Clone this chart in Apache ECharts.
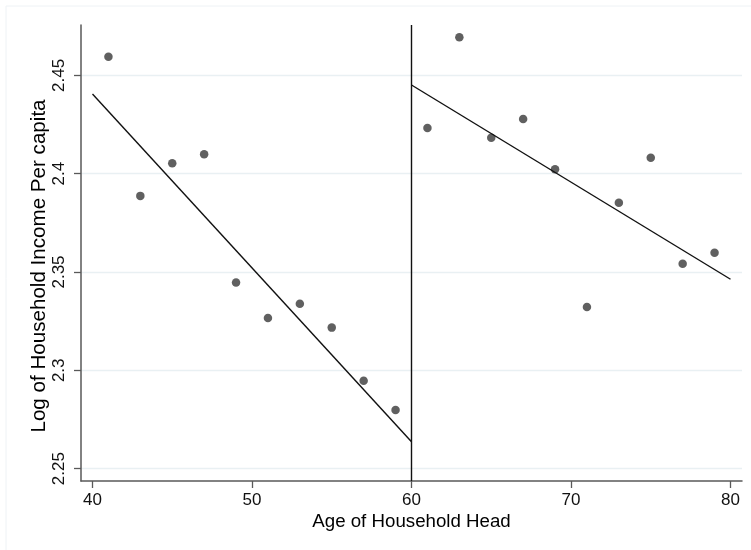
<!DOCTYPE html>
<html>
<head>
<meta charset="utf-8">
<script src="https://cdn.jsdelivr.net/npm/echarts@6/dist/echarts.min.js"></script>
<style>
  html, body { margin: 0; padding: 0; background: #fff; }
  #chart { width: 751px; height: 550px; }
</style>
</head>
<body>
<div id="chart"></div>
<script>
// binned scatter: age of household head vs log income per capita
const ageLeft = [41, 43, 45, 47, 49, 51, 53, 55, 57, 59];
const incomeLeft = [2.4595, 2.3887, 2.4053, 2.4099, 2.3446, 2.3266, 2.3339, 2.3217, 2.2947, 2.2798];
const ageRight = [61, 63, 65, 67, 69, 71, 73, 75, 77, 79];
const incomeRight = [2.4232, 2.4694, 2.4182, 2.4278, 2.4022, 2.3322, 2.3852, 2.4081, 2.3542, 2.3598];

// fitted lines on each side of the cutoff
const fitLeft = [[40, 2.4405], [60, 2.2637]];
const fitRight = [[60, 2.4451], [80, 2.3463]];
const cutoff = 60;

const xTicks = [40, 50, 60, 70, 80];
const yTicks = [2.25, 2.3, 2.35, 2.4, 2.45];

const font = "'Liberation Sans', Arial, sans-serif";
const axisColor = "#595959";

let chart = echarts.init(document.getElementById("chart"));

chart.setOption({
  animation: false,
  backgroundColor: "#fff",
  graphic: [{
    type: "rect",
    shape: { x: 6, y: 6, width: 800, height: 600 },
    style: { fill: "none", stroke: "#eef2f5", lineWidth: 1 },
    silent: true
  }],
  grid: { left: 81, right: 9, top: 25, bottom: 69 },
  xAxis: {
    type: "value",
    min: 39.28,
    max: 80.72,
    name: "Age of Household Head",
    nameLocation: "middle",
    nameGap: 31,
    nameMoveOverlap: false,
    nameTextStyle: { fontFamily: font, fontSize: 18.7, color: "#000" },
    axisLine: { show: true, onZero: false, lineStyle: { color: axisColor, width: 1.5 } },
    axisTick: { show: true, length: 7, customValues: xTicks, lineStyle: { color: axisColor, width: 1.3 } },
    axisLabel: { customValues: xTicks, margin: 11, fontFamily: font, fontSize: 17, color: "#111" },
    splitLine: { show: false }
  },
  yAxis: {
    type: "value",
    min: 2.2437,
    max: 2.4756,
    name: "Log of Household Income Per capita",
    nameLocation: "middle",
    nameGap: 31,
    nameMoveOverlap: false,
    nameRotate: 90,
    nameTextStyle: { fontFamily: font, fontSize: 20.6, color: "#000", padding: [0, 26, 0, 0] },
    axisLine: { show: true, onZero: false, lineStyle: { color: axisColor, width: 1.5 } },
    axisTick: { show: true, length: 7, customValues: yTicks, lineStyle: { color: axisColor, width: 1.3 } },
    axisLabel: {
      customValues: yTicks,
      rotate: 90,
      margin: 13,
      fontFamily: font,
      fontSize: 17,
      color: "#111"
    },
    splitLine: { show: true, lineStyle: { color: "#e9f0f3", width: 1.3 } }
  },
  series: [
    {
      type: "scatter",
      data: ageLeft.map((a, i) => [a, incomeLeft[i]]),
      symbolSize: 8.5,
      itemStyle: { color: "#383838" }
    },
    {
      type: "scatter",
      data: ageRight.map((a, i) => [a, incomeRight[i]]),
      symbolSize: 8.5,
      itemStyle: { color: "#383838" }
    },
    {
      type: "line",
      data: fitLeft,
      showSymbol: false,
      lineStyle: { color: "#111", width: 1.4 }
    },
    {
      type: "line",
      data: fitRight,
      showSymbol: false,
      lineStyle: { color: "#111", width: 1.4 },
      markLine: {
        silent: true,
        symbol: "none",
        label: { show: false },
        lineStyle: { color: "#111", width: 1.4, type: "solid" },
        data: [{ xAxis: cutoff }]
      }
    }
  ]
});
</script>
</body>
</html>
